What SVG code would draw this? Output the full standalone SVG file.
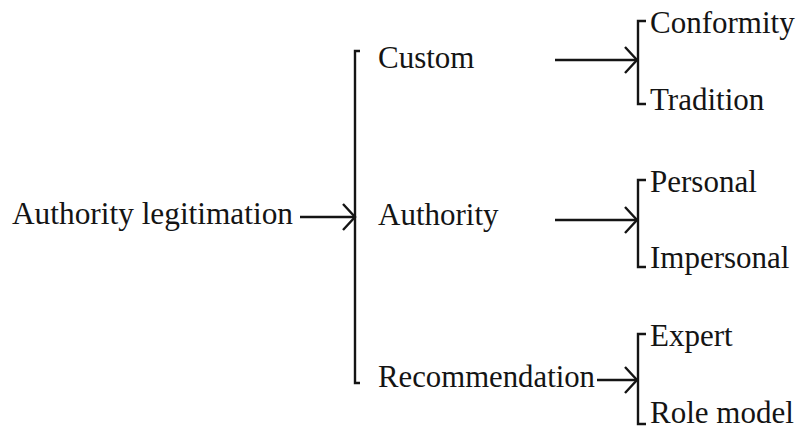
<svg xmlns="http://www.w3.org/2000/svg" width="800" height="436" viewBox="0 0 800 436">
  <style>
    .lbl { font-family: "Liberation Serif", "Times New Roman", serif; font-size: 31px; fill: #141414; }
    .ln { stroke: #141414; stroke-width: 2.4; fill: none; }
  </style>
  <defs>
    <marker id="chev" viewBox="0 0 16 30" refX="14" refY="15" markerWidth="16" markerHeight="30" markerUnits="userSpaceOnUse" orient="auto">
      <path d="M2,2 L14,15 L2,28" fill="none" stroke="#141414" stroke-width="2.4"/>
    </marker>
  </defs>
  <rect width="800" height="436" fill="#ffffff"/>

  <g id="connectors">
    <!-- root to first level -->
    <line class="ln" x1="300" y1="217" x2="355" y2="217" marker-end="url(#chev)"/>
    <path class="ln" d="M360,51 H355 V383 H360"/>
    <!-- first level to second level -->
    <line class="ln" x1="555" y1="60" x2="637" y2="60" marker-end="url(#chev)"/>
    <path class="ln" d="M646,21 H638 V104 H646"/>
    <line class="ln" x1="555" y1="220" x2="637" y2="220" marker-end="url(#chev)"/>
    <path class="ln" d="M646,180 H638 V267 H646"/>
    <line class="ln" x1="597" y1="380" x2="637" y2="380" marker-end="url(#chev)"/>
    <path class="ln" d="M646,334 H638 V424 H646"/>
  </g>

  <g id="n-root"><text class="lbl" x="12" y="224" textLength="281" lengthAdjust="spacingAndGlyphs">Authority legitimation</text></g>
  <g id="n-custom"><text class="lbl" x="378" y="68">Custom</text></g>
  <g id="n-authority"><text class="lbl" x="378" y="225">Authority</text></g>
  <g id="n-recommendation"><text class="lbl" x="378" y="387" textLength="217" lengthAdjust="spacingAndGlyphs">Recommendation</text></g>
  <g id="n-conformity"><text class="lbl" x="650" y="33">Conformity</text></g>
  <g id="n-tradition"><text class="lbl" x="650" y="110">Tradition</text></g>
  <g id="n-personal"><text class="lbl" x="650" y="192">Personal</text></g>
  <g id="n-impersonal"><text class="lbl" x="650" y="268">Impersonal</text></g>
  <g id="n-expert"><text class="lbl" x="650" y="346">Expert</text></g>
  <g id="n-rolemodel"><text class="lbl" x="650" y="423">Role model</text></g>
</svg>
